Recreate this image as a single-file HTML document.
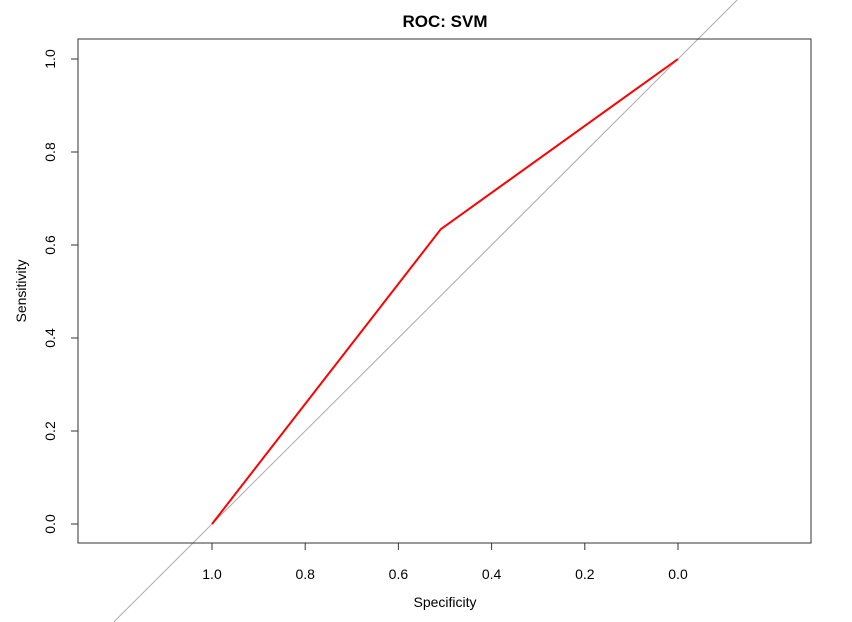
<!DOCTYPE html>
<html><head><meta charset="utf-8"><style>
body{margin:0;background:#fff}
svg{display:block;font-family:"Liberation Sans",Arial,sans-serif}
</style></head><body>
<svg id="chart" width="852" height="622"></svg>
<script>
const xTicks=[1.0,0.8,0.6,0.4,0.2,0.0];
const xTickLabels=["1.0","0.8","0.6","0.4","0.2","0.0"];
const yTicks=[0,0.2,0.4,0.6,0.8,1.0];
const yTickLabels=["0.0","0.2","0.4","0.6","0.8","1.0"];
const specificity=[1.0,0.509,0.0];
const sensitivity=[0.0,0.634,1.0];
const NS="http://www.w3.org/2000/svg";
const svg=document.getElementById('chart');
function sx(v){return 678+(1-v)*0-(v)*466+466*0+ (212-678)*v;}
function X(v){return 678+(212-678)*v;}
function Y(v){return 524-465*v;}
function mk(t,a,p){const e=document.createElementNS(NS,t);for(const k in a)e.setAttribute(k,a[k]);(p||svg).appendChild(e);return e;}
// diagonal (abline, clipped to figure)
let d=mk('line',{x1:X(1+ (622-524)/465),y1:622,x2:X(1-(0-524)/465*-1),y2:0,stroke:'#aaaaaa','stroke-width':1});
d.setAttribute('x1',X(-(Y(0)-622)/465*-1+0)); 
// recompute properly: sens = 1 - spec -> at y=622 sens=(524-622)/465
{const s0=(524-622)/465, s1=524/465;
d.setAttribute('x1',X(1-s0));d.setAttribute('y1',622);
d.setAttribute('x2',X(1-s1));d.setAttribute('y2',0);}


let box=mk('rect',{x:78,y:39,width:733,height:504,fill:'none',stroke:'#333',"stroke-width":1});


// x axis
let xa=mk('line',{x1:X(xTicks[0]),y1:543,x2:X(xTicks[xTicks.length-1]),y2:543,stroke:'#333'});


xTicks.forEach((v,i)=>{
 const t=mk('line',{x1:X(v),y1:543,x2:X(v),y2:550,stroke:'#333'});
 
 
 const l=mk('text',{x:X(v),y:579,'text-anchor':'middle','font-size':14,fill:'#000'});
 l.textContent=xTickLabels[i];
 
 
});
let ya=mk('line',{x1:78,y1:Y(yTicks[0]),x2:78,y2:Y(yTicks[yTicks.length-1]),stroke:'#333'});


yTicks.forEach((v,i)=>{
 const t=mk('line',{x1:71,y1:Y(v),x2:78,y2:Y(v),stroke:'#333'});
 
 
 const l=mk('text',{x:55,y:Y(v),'text-anchor':'middle','font-size':14,fill:'#000',transform:`rotate(-90 55 ${Y(v)})`});
 l.textContent=yTickLabels[i];
 
 
});
let pts=specificity.map((s,i)=>X(s)+','+Y(sensitivity[i])).join(' ');
let roc=mk('polyline',{points:pts,fill:'none',stroke:'#ff0000','stroke-width':2});


let ti=mk('text',{x:445,y:27,'text-anchor':'middle','font-size':17,'font-weight':'bold'});
ti.textContent='ROC: SVM';


let xt=mk('text',{x:445,y:607,'text-anchor':'middle','font-size':14});
xt.textContent='Specificity';


let yt=mk('text',{x:26,y:291,'text-anchor':'middle','font-size':14,transform:'rotate(-90 26 291)'});
yt.textContent='Sensitivity';


</script>
</body></html>
